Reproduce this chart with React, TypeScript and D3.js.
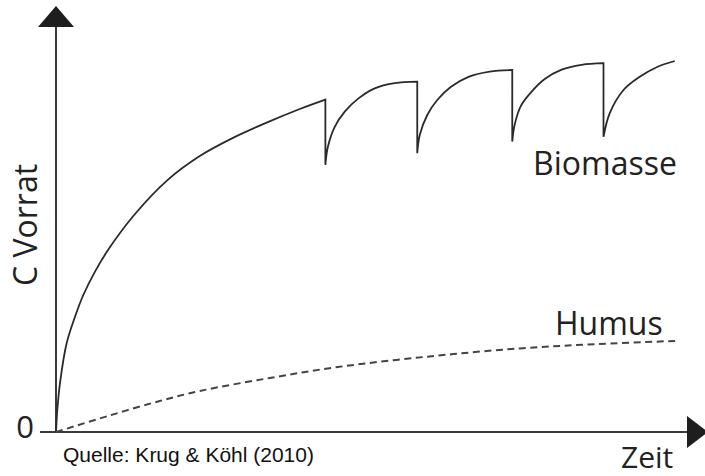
import React, { useEffect, useRef } from 'react';
import * as d3 from 'd3';

// Biomasse: Aufbau mit periodischer Nutzung (senkrechte Sprünge = Ernte)
const zeit = [0, 0.21, 0.64, 1.71, 3.04, 4.37, 6.24, 8.37, 12.37, 17.7, 23.0, 28.4, 33.7, 39.0, 43.1,
  43.1, 43.5, 44.6, 46.2, 48.4, 51.0, 54.2, 57.8,
  57.8, 58.2, 59.4, 61.0, 63.2, 66.0, 69.4, 73.0,
  73.0, 73.4, 74.4, 76.1, 78.2, 80.9, 84.1, 87.6,
  87.6, 88.6, 90.8, 93.4, 96.1, 99.0];
const biomasse = [0, 5.5, 12.25, 22.25, 28.8, 34.25, 40.1, 45.6, 54.0, 62.8, 69.0, 73.6, 77.35, 80.75, 83.1,
  66.8, 71.3, 76.3, 80.1, 83.4, 85.9, 87.2, 87.6,
  69.7, 74.25, 79.25, 83, 86.3, 88.8, 90.1, 90.5,
  72.6, 76.9, 81.6, 85.1, 88.25, 90.6, 91.8, 92.2,
  73.8, 79.7, 85.5, 88.8, 91.2, 92.75];

// Humus: langsamer, stetiger Aufbau
const humusZeit = [0, 8.3, 16.6, 23.0, 34.2, 45.1, 59.8, 74.2, 86.9, 99.7];
const humus = [0, 4, 7.75, 10.25, 13.5, 16.25, 18.9, 20.9, 22, 22.8];

const App = () => {
  const svgRef = useRef<SVGSVGElement>(null);
  const width = 705, height = 476;

  useEffect(() => {
    const svg = d3.select(svgRef.current);
    svg.selectAll('*').remove();

    const x = d3.scaleLinear().domain([0, 100]).range([56, 681]);
    const y = d3.scaleLinear().domain([0, 100]).range([432, 32]);
    const x0 = x(0), y0 = y(0);
    const axisColor = '#3a3a3a';
    const textColor = '#222';
    const sans = '"Open Sans", "Noto Sans", sans-serif';

    // Achsen
    svg.append('line')
      .attr('x1', x0).attr('x2', x0)
      .attr('y1', y0).attr('y2', 26)
      .attr('stroke', axisColor).attr('stroke-width', 2);
    svg.append('line')
      .attr('x1', x0 - 16).attr('x2', 688)
      .attr('y1', y0).attr('y2', y0)
      .attr('stroke', axisColor).attr('stroke-width', 2);
    svg.append('polygon')
      .attr('points', `${x0},6 ${x0 - 18},27 ${x0 + 18},27`)
      .attr('fill', '#1e1e1e');
    svg.append('polygon')
      .attr('points', `687,416 687,448 708,${y0}`)
      .attr('fill', '#1e1e1e');

    // Biomasse in Abschnitte teilen (gleiche Zeit = Sprung)
    const pts = zeit.map((t, i) => [t, biomasse[i]] as [number, number]);
    const segs: [number, number][][] = [[]];
    pts.forEach((p, i) => {
      if (i > 0 && p[0] === pts[i - 1][0]) segs.push([]);
      segs[segs.length - 1].push(p);
    });
    const line = d3.line<[number, number]>()
      .x(d => x(d[0]))
      .y(d => y(d[1]))
      .curve(d3.curveCatmullRom.alpha(0.5));
    const d = segs.map((s, i) => {
      const p = line(s) || '';
      return i === 0 ? p : 'L' + p.slice(1);
    }).join('');
    svg.append('path')
      .attr('d', d)
      .attr('fill', 'none')
      .attr('stroke', '#2a2a2a')
      .attr('stroke-width', 1.8)
      .attr('stroke-linejoin', 'miter');

    // Humus
    const hPts = humusZeit.map((t, i) => [t, humus[i]] as [number, number]);
    svg.append('path')
      .attr('d', line(hPts))
      .attr('fill', 'none')
      .attr('stroke', '#444')
      .attr('stroke-width', 2)
      .attr('stroke-dasharray', '7,4.5');

    // Beschriftungen
    svg.append('text')
      .attr('x', 34).attr('y', 438)
      .attr('text-anchor', 'end')
      .attr('font-family', sans).attr('font-size', 31)
      .attr('fill', textColor)
      .text('0');
    svg.append('text')
      .attr('transform', 'translate(37,225) rotate(-90)')
      .attr('text-anchor', 'middle')
      .attr('font-family', sans).attr('font-size', 32)
      .attr('fill', textColor)
      .text('C Vorrat');
    svg.append('text')
      .attr('x', 621).attr('y', 468)
      .attr('font-family', sans).attr('font-size', 30)
      .attr('fill', textColor)
      .text('Zeit');
    svg.append('text')
      .attr('x', 533).attr('y', 175)
      .attr('font-family', sans).attr('font-size', 32)
      .attr('fill', textColor)
      .text('Biomasse');
    svg.append('text')
      .attr('x', 555).attr('y', 335)
      .attr('font-family', sans).attr('font-size', 32)
      .attr('fill', textColor)
      .text('Humus');
    svg.append('text')
      .attr('x', 63).attr('y', 462)
      .attr('font-family', '"Liberation Sans", Arial, sans-serif').attr('font-size', 21)
      .attr('fill', '#111')
      .text('Quelle: Krug & Köhl (2010)');
  }, []);

  return (
    <svg ref={svgRef} width={width} height={height}
      style={{ position: 'absolute', left: 0, top: 0, display: 'block', background: '#fff' }} />
  );
};

export default App;
